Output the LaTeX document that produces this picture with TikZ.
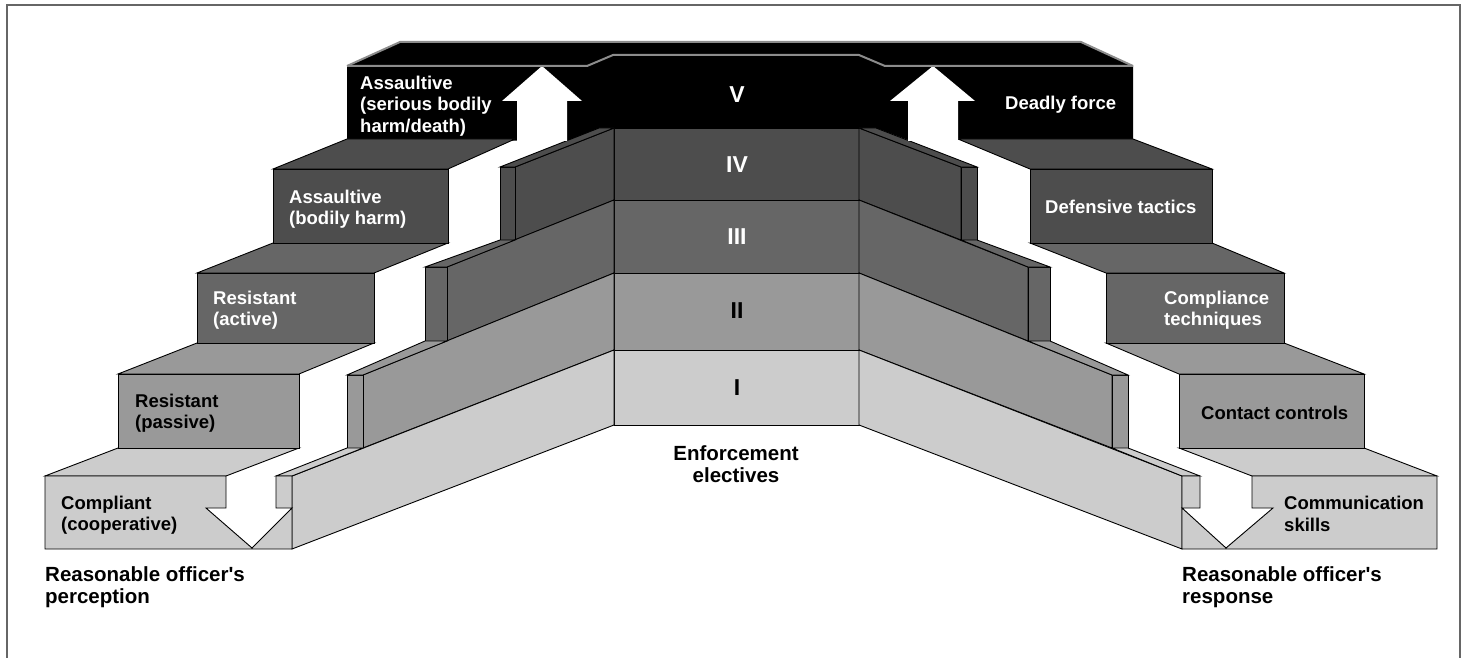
\documentclass[tikz,border=0pt]{standalone}
\usepackage{fontspec}
\setmainfont{Liberation Sans}
\usepackage{xcolor}
\usepackage{tikz}
\definecolor{lvlI}{HTML}{CCCCCC}
\definecolor{lvlII}{HTML}{999999}
\definecolor{lvlIII}{HTML}{666666}
\definecolor{lvlIV}{HTML}{4D4D4D}
\definecolor{lvlV}{HTML}{000000}
\begin{document}
\begin{tikzpicture}[
	x=1pt, y=-1pt,
	line join=miter,
	font=\bfseries
]
\tikzset{
	face/.style = {draw=black, line width=0.9pt},
	rim/.style = {draw=black!45, line width=2pt},
	steplabel/.style = {anchor=west, align=left, inner sep=0pt, font=\bfseries\fontsize{18.5pt}{21.5pt}\selectfont},
	levellabel/.style = {inner sep=0pt, font=\bfseries\fontsize{23pt}{25pt}\selectfont},
	footlabel/.style = {anchor=west, align=left, inner sep=0pt, font=\bfseries\fontsize{20.5pt}{22.5pt}\selectfont}
}
\useasboundingbox (0,0) rectangle (1469,658);
\draw[black!60, line width=2pt] (7,658) -- (7,5) -- (1460,5) -- (1460,658);

\fill[lvlV] (347,66) -- (400,42) -- (1081,42) -- (1133,66) -- (1133,139) -- (908,140) -- (876,128)
	-- (599,128) -- (567,141) -- (347,139) -- cycle;

\filldraw[face, fill=lvlIV] (614,128) rectangle (859,200);
\filldraw[face, fill=lvlIII] (614,200) rectangle (859,273);
\filldraw[face, fill=lvlII] (614,273) rectangle (859,350);
\filldraw[face, fill=lvlI] (614,350) rectangle (859,425);

\filldraw[face, fill=lvlIV] (515,167) -- (515,240) -- (614,200) -- (614,128) -- cycle;
\filldraw[face, fill=lvlIV] (500,167) rectangle (515,240);
\filldraw[face, fill=lvlIV] (500,167) -- (515,167) -- (614,128) -- (599,128) -- cycle;
\filldraw[face, fill=lvlIII] (447,267) -- (447,341) -- (614,273) -- (614,200) -- cycle;
\filldraw[face, fill=lvlIII] (425,267) rectangle (447,341);
\filldraw[face, fill=lvlIII] (425,267) -- (447,267) -- (515,240) -- (500,240) -- cycle;
\filldraw[face, fill=lvlII] (363,375) -- (363,448) -- (614,350) -- (614,273) -- cycle;
\filldraw[face, fill=lvlII] (347,375) rectangle (363,448);
\filldraw[face, fill=lvlII] (347,375) -- (363,375) -- (447,341) -- (425,341) -- cycle;
\filldraw[face, fill=lvlI] (292,476) -- (292,549) -- (614,425) -- (614,350) -- cycle;
\filldraw[face, fill=lvlI] (276,476) -- (292,476) -- (363,448) -- (347,448) -- cycle;

\filldraw[face, fill=lvlIV] (961,167) -- (961,240) -- (859,200) -- (859,128) -- cycle;
\filldraw[face, fill=lvlIV] (961,167) rectangle (977,240);
\filldraw[face, fill=lvlIV] (961,167) -- (977,167) -- (876,128) -- (859,128) -- cycle;
\filldraw[face, fill=lvlIII] (1028,267) -- (1028,341) -- (859,273) -- (859,200) -- cycle;
\filldraw[face, fill=lvlIII] (1028,267) rectangle (1050,341);
\filldraw[face, fill=lvlIII] (1028,267) -- (1050,267) -- (977,240) -- (961,240) -- cycle;
\filldraw[face, fill=lvlII] (1112,375) -- (1112,448) -- (859,350) -- (859,273) -- cycle;
\filldraw[face, fill=lvlII] (1112,375) rectangle (1128,448);
\filldraw[face, fill=lvlII] (1112,375) -- (1128,375) -- (1050,341) -- (1028,341) -- cycle;
\filldraw[face, fill=lvlI] (1182,476) -- (1182,549) -- (859,425) -- (859,350) -- cycle;
\filldraw[face, fill=lvlI] (1182,476) -- (1200,476) -- (1128,448) -- (1112,448) -- cycle;

\filldraw[face, fill=lvlI] (45,476) -- (118,448) -- (299,448) -- (226,476) -- cycle;
\filldraw[face, fill=lvlI] (45,476) -- (226,476) -- (226,508) -- (206,508) -- (252,548) -- (292,508)
	-- (276,508) -- (276,476) -- (292,476) -- (292,549) -- (45,549) -- cycle;
\filldraw[face, fill=lvlII] (118,374) -- (197,343) -- (374,343) -- (299,374) -- cycle;
\filldraw[face, fill=lvlII] (118,374) rectangle (299,448);
\filldraw[face, fill=lvlIII] (197,273) -- (273,243) -- (448,243) -- (374,273) -- cycle;
\filldraw[face, fill=lvlIII] (197,273) rectangle (374,343);
\filldraw[face, fill=lvlIV] (273,169) -- (347,139) -- (515,139) -- (448,169) -- cycle;
\filldraw[face, fill=lvlIV] (273,169) rectangle (448,243);

\filldraw[face, fill=lvlI] (1252,476) -- (1179,448) -- (1364,448) -- (1437,476) -- cycle;
\filldraw[face, fill=lvlI] (1437,476) -- (1252,476) -- (1252,508) -- (1273,508) -- (1226,548) -- (1182,508)
	-- (1200,508) -- (1200,476) -- (1182,476) -- (1182,549) -- (1437,549) -- cycle;
\filldraw[face, fill=lvlII] (1179,374) -- (1106,343) -- (1284,343) -- (1364,374) -- cycle;
\filldraw[face, fill=lvlII] (1179,374) rectangle (1364,448);
\filldraw[face, fill=lvlIII] (1106,273) -- (1030,243) -- (1212,243) -- (1284,273) -- cycle;
\filldraw[face, fill=lvlIII] (1106,273) rectangle (1284,343);
\filldraw[face, fill=lvlIV] (1030,169) -- (958,139) -- (1133,139) -- (1212,169) -- cycle;
\filldraw[face, fill=lvlIV] (1030,169) rectangle (1212,243);

\fill[white] (517,141) -- (517,101) -- (502,101) -- (542,66) -- (582,101) -- (567,101) -- (567,141) -- cycle;
\fill[white] (908,141) -- (908,101) -- (890,101) -- (933,66) -- (975,101) -- (958,101) -- (958,141) -- cycle;

\draw[rim] (347,66) -- (400,42) -- (1081,42) -- (1133,66);
\draw[rim] (347,66) -- (587,66) -- (613,55) -- (859,55) -- (885,66) -- (1133,66);

\node[levellabel, text=white] (lvV) at (737,95) {V};
\node[levellabel, text=white] (lvIV) at (737,165) {IV};
\node[levellabel, text=white] (lvIII) at (737,237) {III};
\node[levellabel, text=black] (lvII) at (737,311) {II};
\node[levellabel, text=black] (lvI) at (737,388) {I};

\node[steplabel, text=black] (compliant) at (61,515) {Compliant\\(cooperative)};
\node[steplabel, text=black] (passive) at (135,413) {Resistant\\(passive)};
\node[steplabel, text=white] (active) at (213,310) {Resistant\\(active)};
\node[steplabel, text=white] (harm) at (289,209) {Assaultive\\(bodily harm)};
\node[steplabel, text=white] (death) at (360,106) {Assaultive\\(serious bodily\\harm/death)};

\node[steplabel, text=black] (talk) at (1284,514) {Communication\\skills};
\node[steplabel, text=black] (contact) at (1201,413) {Contact controls};
\node[steplabel, text=white] (comply) at (1164,310) {Compliance\\techniques};
\node[steplabel, text=white] (tactics) at (1045,207) {Defensive tactics};
\node[steplabel, text=white] (deadly) at (1005,105) {Deadly force};

\node[footlabel, anchor=center, align=center] (electives) at (736,464) {Enforcement\\electives};
\node[footlabel] (perception) at (45,587) {Reasonable officer\textquotesingle s\\perception};
\node[footlabel] (response) at (1182,587) {Reasonable officer\textquotesingle s\\response};
\end{tikzpicture}
\end{document}
